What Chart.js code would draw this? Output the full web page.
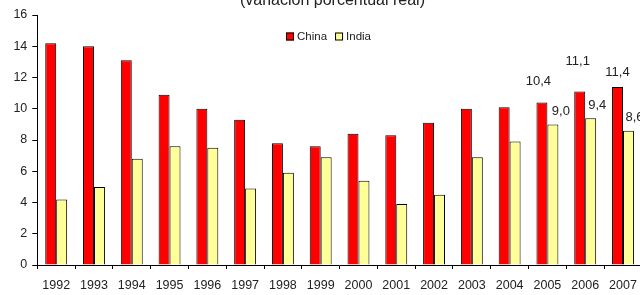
<!DOCTYPE html>
<html>
<head>
<meta charset="utf-8">
<script src="https://cdn.jsdelivr.net/npm/chart.js@4.4.0/dist/chart.umd.min.js"></script>
<style>
    html, body { margin: 0; padding: 0; background: #fff; overflow: hidden; }
    #wrap { width: 640px; height: 295px; overflow: hidden; }
</style>
</head>
<body>
<div id="wrap"><canvas id="myChart" width="646" height="295"></canvas></div>
<script>
// Años (categorías)
const years = ['1992', '1993', '1994', '1995', '1996', '1997', '1998', '1999',
    '2000', '2001', '2002', '2003', '2004', '2005', '2006', '2007'];

// Crecimiento del PIB (variación porcentual real)
const china = [14.2, 14.0, 13.1, 10.9, 10.0, 9.3, 7.8, 7.6, 8.4, 8.3, 9.1, 10.0, 10.1, 10.4, 11.1, 11.4];
const india = [4.2, 5.0, 6.8, 7.6, 7.5, 4.9, 5.9, 6.9, 5.4, 3.9, 4.5, 6.9, 7.9, 9.0, 9.4, 8.6];

// Años con etiqueta de valor
const labelledYears = ['2005', '2006', '2007'];

// Escala del eje Y
const yMin = 0;
const yMax = 16;
const yStep = 2;

const subtitle = '(variación porcentual real)';

const FONT = 'Arial, "Liberation Sans", sans-serif';

/**
 * Subtítulo recortado en la parte superior.
 */
const subtitlePlugin = {
    id: 'subtitle',
    afterDraw(chart)
    {
        const ctx = chart.ctx;
        ctx.save();
        ctx.font = '16px ' + FONT;
        ctx.fillStyle = '#222';
        ctx.textAlign = 'center';
        ctx.textBaseline = 'alphabetic';
        ctx.fillText(subtitle, 332.5, 5);
        ctx.restore();
    },
};

/**
 * Leyenda dibujada dentro del área del gráfico.
 */
const legendPlugin = {
    id: 'innerLegend',
    afterDraw(chart)
    {
        const ctx = chart.ctx;
        ctx.save();
        ctx.font = '11.5px ' + FONT;
        ctx.textBaseline = 'middle';
        ctx.textAlign = 'left';
        let x = 286;
        const y = 36.5;
        chart.data.datasets.forEach(ds => {
            ctx.fillStyle = ds.backgroundColor;
            ctx.fillRect(x, y - 4, 8, 8);
            ctx.strokeStyle = '#000';
            ctx.lineWidth = 1;
            ctx.strokeRect(x + 0.5, y - 3.5, 7, 7);
            ctx.fillStyle = '#222';
            ctx.fillText(ds.label, x + 11, y + 0.5);
            x += 11 + ctx.measureText(ds.label).width + 8;
        });
        ctx.restore();
    },
};

/**
 * Etiquetas de valor (con coma decimal) sobre las barras de los últimos años.
 */
const valueLabelPlugin = {
    id: 'valueLabels',
    afterDatasetsDraw(chart, args, opts)
    {
        const ctx = chart.ctx;
        ctx.save();
        ctx.font = '13px ' + FONT;
        ctx.fillStyle = '#222';
        ctx.textAlign = 'center';
        ctx.textBaseline = 'middle';
        chart.data.datasets.forEach((ds, di) => {
            const meta = chart.getDatasetMeta(di);
            labelledYears.forEach((yr, k) => {
                const i = chart.data.labels.indexOf(yr);
                const bar = meta.data[i];
                const off = opts.offsets[di][k];
                const txt = ds.data[i].toFixed(1).replace('.', ',');
                ctx.fillText(txt, bar.x + off[0], bar.y + off[1]);
            });
        });
        ctx.restore();
    },
};

const ctx = document.getElementById('myChart').getContext('2d');

const config = {
    type: 'bar',
    data: {
        labels: years,
        datasets: [
            {
                label: 'China',
                data: china,
                backgroundColor: '#FF0000',
                borderColor: '#000',
                borderWidth: 1,
            },
            {
                label: 'India',
                data: india,
                backgroundColor: '#FFFF99',
                borderColor: '#000',
                borderWidth: 1,
            },
        ],
    },
    options: {
        responsive: false,
        animation: false,
        layout: {
            padding: { top: 15, right: 3.4, bottom: 0, left: 0 },
        },
        datasets: {
            bar: {
                categoryPercentage: 0.58,
                barPercentage: 1.0,
            },
        },
        plugins: {
            legend: { display: false },
            tooltip: { enabled: false },
            valueLabels: {
                offsets: [
                    [[-3.5, -21], [-2, -30], [0, -14]],
                    [[8, -12.7], [6.6, -13], [6, -13]],
                ],
            },
        },
        scales: {
            x: {
                grid: {
                    offset: true,
                    drawOnChartArea: false,
                    drawTicks: true,
                    tickLength: 4,
                    color: '#000',
                },
                border: { color: '#000', width: 1 },
                ticks: {
                    color: '#222',
                    font: { family: FONT, size: 12.5 },
                    padding: 9,
                    maxRotation: 0,
                    autoSkip: false,
                },
                afterFit(scale) { scale.height = 30; },
            },
            y: {
                min: yMin,
                max: yMax,
                grid: {
                    drawOnChartArea: false,
                    drawTicks: true,
                    tickLength: 5,
                    color: '#000',
                },
                border: { color: '#000', width: 1 },
                ticks: {
                    stepSize: yStep,
                    color: '#222',
                    font: { family: FONT, size: 12.5 },
                    padding: 5,
                },
                afterFit(scale) { scale.width = 37.3; },
            },
        },
    },
    plugins: [valueLabelPlugin, legendPlugin, subtitlePlugin],
};

new Chart(ctx, config);
</script>
</body>
</html>
